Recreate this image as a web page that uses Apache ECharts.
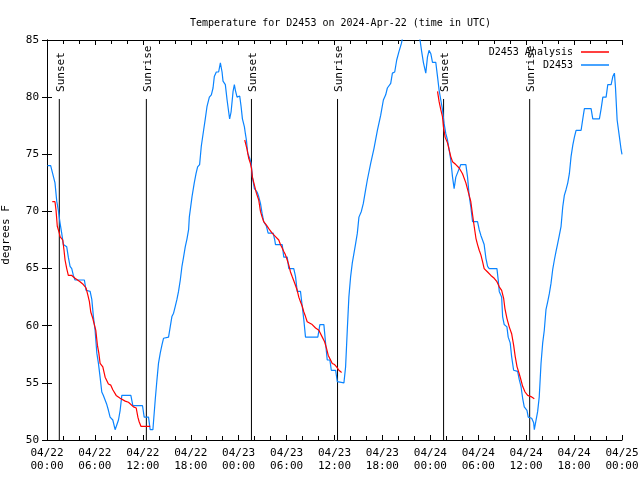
<!DOCTYPE html>
<html><head><meta charset="utf-8">
<script src="https://cdn.jsdelivr.net/npm/echarts@6/dist/echarts.min.js"></script>
<style>html,body{margin:0;padding:0;background:#fff}#c{width:640px;height:480px}</style>
</head><body><div id="c"></div>
<script>
// x values are hours since 04/22 00:00 UTC
const xTickLabels = ["04/22\n00:00","04/22\n06:00","04/22\n12:00","04/22\n18:00","04/23\n00:00","04/23\n06:00","04/23\n12:00","04/23\n18:00","04/24\n00:00","04/24\n06:00","04/24\n12:00","04/24\n18:00","04/25\n00:00"];
const sunsetHours = [1.54, 25.60, 49.66];
const sunriseHours = [12.44, 36.38, 60.44];

const obsHours = [0.05,0.46,1.0,1.22,1.42,1.63,1.84,2.05,2.47,2.67,2.89,3.10,3.30,3.51,4.68,4.89,5.40,5.61,5.81,6.02,6.24,6.44,6.65,6.86,7.06,7.49,7.69,7.90,8.24,8.53,8.75,8.95,9.16,9.37,10.50,10.75,11.96,12.17,12.71,12.92,13.26,13.55,13.76,13.96,14.18,14.39,14.59,15.22,15.43,15.64,15.85,16.06,16.27,16.47,16.69,16.90,17.10,17.31,17.53,17.73,17.82,18.16,18.44,18.66,18.86,19.11,19.32,19.61,19.82,20.04,20.33,20.58,20.79,20.95,21.20,21.49,21.71,21.92,22.04,22.33,22.55,22.75,22.87,23.05,23.30,23.46,23.59,23.80,24.13,24.30,24.47,24.72,24.84,24.97,25.13,25.38,25.56,25.72,25.97,26.31,26.51,26.73,26.94,27.14,27.48,27.69,28.32,28.52,28.61,29.45,29.65,30.08,30.28,30.90,31.12,31.33,31.74,31.96,32.16,32.37,33.91,34.17,34.67,34.88,35.09,35.42,35.60,36.14,36.35,37.18,37.39,37.60,37.80,38.02,38.23,38.43,38.65,38.86,39.06,39.36,39.61,39.90,40.11,40.53,40.94,41.37,41.78,42.12,42.41,42.62,43.04,43.25,43.54,43.79,44.08,44.38,44.60,45.10,45.60,46.10,46.60,46.71,46.89,47.14,47.43,47.64,47.84,48.06,48.27,48.68,48.90,49.10,49.31,49.52,49.72,49.94,50.15,50.35,50.56,50.78,50.98,51.19,51.40,51.82,52.45,52.66,52.86,53.07,53.29,53.91,54.12,54.33,54.54,54.74,54.96,55.17,55.37,56.34,56.50,56.63,56.93,57.05,57.25,57.59,57.75,58.00,58.18,58.43,58.93,59.13,59.35,59.56,59.76,60.10,60.26,60.69,60.94,61.02,61.27,61.44,61.64,61.86,62.07,62.27,62.48,62.70,62.90,63.11,63.32,63.53,63.74,63.95,64.15,64.37,64.58,64.78,64.99,65.21,65.41,65.62,65.84,66.04,66.25,66.88,67.09,67.29,68.13,68.34,69.17,69.39,69.60,70.01,70.22,70.64,70.85,71.05,71.18,71.39,71.68,71.89,72.0];
const obsTemps = [74.0,74.0,72.5,70.9,70.1,69.0,68.1,67.1,66.9,66.0,65.2,65.0,64.4,64.0,64.0,63.1,63.0,62.3,60.8,59.6,57.6,56.7,55.5,54.2,53.9,53.1,52.6,52.0,51.75,50.9,50.9,51.75,52.6,53.9,53.9,53.0,53.0,52.0,52.0,50.9,50.9,53.5,55.2,56.7,57.6,58.3,58.9,59.0,59.9,60.8,61.1,61.7,62.3,63.0,64.0,65.2,66.0,66.9,67.6,68.4,69.5,71.3,72.5,73.3,73.9,74.1,75.7,77.1,78.1,79.2,80.0,80.2,80.8,81.8,82.2,82.2,83.0,82.2,81.4,81.1,79.75,78.7,78.1,78.7,80.5,81.1,80.6,80.0,80.1,79.2,78.1,77.4,76.8,76.25,75.1,74.65,74.2,73.0,72.0,71.7,71.3,70.7,69.8,69.1,68.7,68.1,68.1,67.5,67.1,67.1,66.0,66.0,65.0,65.0,64.3,63.0,63.0,61.7,60.5,59.0,59.0,60.1,60.1,58.5,57.0,57.0,56.1,56.1,55.1,55.0,56.4,59.6,62.5,64.3,65.5,66.3,67.2,68.1,69.5,70.0,70.7,71.9,72.75,74.2,75.5,77.1,78.4,79.75,80.2,80.8,81.2,82.1,82.2,83.25,84.0,84.7,85.5,86.3,86.0,86.4,85.5,85.0,84.1,83.0,82.1,83.5,84.1,83.8,83.05,83.05,81.8,80.6,79.75,78.9,77.7,76.8,76.25,75.4,74.5,73.0,72.0,73.0,73.0,74.1,74.1,73.0,71.4,70.4,69.1,69.1,68.4,67.9,67.8,67.1,65.9,65.2,65.0,65.0,64.0,63.0,62.5,60.8,60.1,59.9,59.0,58.5,57.3,56.1,56.0,55.3,54.7,53.65,52.9,52.6,52.0,51.9,51.5,50.9,50.9,52.5,53.8,56.7,58.5,59.6,61.4,62.1,62.8,63.7,64.9,65.75,66.5,67.2,67.9,68.7,70.4,71.4,71.9,72.5,73.3,74.8,75.8,76.5,77.1,77.1,78.1,79.0,79.0,78.1,78.1,79.0,80.0,80.0,81.1,81.1,81.8,82.1,80.9,78.0,76.5,75.4,75.0];

const anaHours = [0.66,1.0,1.13,1.29,1.54,1.63,1.84,1.97,2.13,2.26,2.47,2.67,3.10,3.51,4.14,4.55,4.89,5.11,5.31,5.48,5.73,5.93,6.11,6.31,6.49,6.65,6.99,7.28,7.69,7.99,8.24,8.66,9.16,9.79,10.20,10.83,11.17,11.38,11.54,11.76,12.92,
 null,
 24.76,25.06,25.26,25.47,25.60,25.72,25.97,26.22,26.51,26.73,26.94,27.14,27.48,27.77,28.19,28.61,29.02,29.23,29.45,29.65,29.86,30.08,30.28,30.49,30.70,31.03,31.33,31.53,31.74,31.96,32.16,32.37,32.58,32.79,33.21,33.63,34.04,34.47,34.76,35.01,35.22,35.51,35.72,36.01,36.26,36.55,36.89,
 null,
 48.90,49.10,49.31,49.52,49.64,49.85,50.15,50.35,50.56,50.78,51.19,51.61,52.03,52.45,52.79,53.07,53.29,53.49,53.71,53.91,54.12,54.33,54.54,54.74,55.17,55.58,56.00,56.34,56.63,56.93,57.18,57.34,57.59,57.88,58.18,58.43,58.63,58.86,59.13,59.35,59.56,59.86,60.19,60.60,61.02];
const anaTemps = [70.85,70.85,70.1,68.7,68.1,67.8,67.8,67.5,66.6,65.75,65.0,64.4,64.4,64.15,63.85,63.6,63.3,62.7,62.1,61.2,60.65,60.65,59.6,58.3,57.6,56.7,56.4,55.5,54.9,54.8,54.4,53.9,53.65,53.4,53.3,52.9,52.8,52.0,51.6,51.2,51.2,
 null,
 76.25,75.4,74.65,74.2,73.8,73.0,72.3,71.6,71.0,70.0,69.5,69.1,68.8,68.5,68.1,67.8,67.5,67.1,66.8,66.5,66.2,65.75,65.3,64.7,64.3,63.7,63.1,62.5,62.1,61.7,61.2,60.8,60.35,60.2,60.1,59.8,59.6,59.0,58.6,58.0,57.4,57.0,56.7,56.6,56.4,56.1,55.9,
 null,
 80.5,79.6,78.9,78.3,77.4,76.5,76.0,75.4,74.8,74.35,74.1,73.8,73.3,72.5,71.6,70.85,69.7,68.7,67.65,67.1,66.6,66.2,65.6,65.0,64.7,64.4,64.15,63.85,63.4,63.1,62.4,61.5,60.65,59.9,59.3,58.3,57.3,56.4,55.8,55.25,54.7,54.2,53.9,53.8,53.6];

const FONT = 'DejaVu Sans Mono';
const pair = (xs, ys) => xs.map((x, i) => (x === null ? [null, null] : [x, ys[i]]));
const sunEvents = sunsetHours.map(h => [h, 'Sunset']).concat(sunriseHours.map(h => [h, 'Sunrise']));

const chart = echarts.init(document.getElementById('c'), null, {renderer: 'canvas'});
const axisCommon = {
  type: 'value', min: 0, max: 72, interval: 6,
  axisLine: {show: true, lineStyle: {color: '#000', width: 1}},
  axisTick: {show: true, inside: true, length: 5, lineStyle: {color: '#000'}},
  minorTick: {show: true, splitNumber: 3, length: 4, lineStyle: {color: '#000'}},
  splitLine: {show: false}
};
chart.setOption({
  animation: false,
  backgroundColor: '#fff',
  title: {text: 'Temperature for D2453 on 2024-Apr-22 (time in UTC)', left: 185, top: 13,
    textStyle: {fontFamily: FONT, fontSize: 10, fontWeight: 'normal', color: '#000'}},
  grid: {left: 47, right: 18, top: 40, bottom: 40, containLabel: false, outerBoundsMode: 'none'},
  legend: [
    {data: [{name: 'D2453 Analysis', icon: 'rect'}], right: 26, top: 42, align: 'right', itemWidth: 28, itemHeight: 1.5,
      textStyle: {fontFamily: FONT, fontSize: 10, color: '#000', padding: [0, 3, 0, 0]}},
    {data: [{name: 'D2453', icon: 'rect'}], right: 26, top: 55, align: 'right', itemWidth: 28, itemHeight: 1.5,
      textStyle: {fontFamily: FONT, fontSize: 10, color: '#000', padding: [0, 3, 0, 0]}}
  ],
  xAxis: [
    Object.assign({}, axisCommon, {position: 'bottom',
      axisLabel: {show: true, fontFamily: FONT, fontSize: 11, color: '#000', lineHeight: 13, margin: 7,
        showMinLabel: true, showMaxLabel: true, hideOverlap: false,
        formatter: v => xTickLabels[Math.round(v / 6)]}}),
    Object.assign({}, axisCommon, {position: 'top', axisLabel: {show: false}})
  ],
  yAxis: [
    {type: 'value', min: 50, max: 85, interval: 5, position: 'left',
      name: 'degrees F', nameLocation: 'middle', nameGap: 35, nameRotate: 90,
      nameTextStyle: {fontFamily: FONT, fontSize: 11, color: '#000', padding: [0, 0, 0, 10]},
      axisLine: {show: true, lineStyle: {color: '#000'}},
      axisTick: {show: true, inside: true, length: 5, lineStyle: {color: '#000'}},
      axisLabel: {fontFamily: FONT, fontSize: 11, color: '#000', margin: 8},
      splitLine: {show: false}},
    {type: 'value', min: 50, max: 85, interval: 5, position: 'right',
      axisLine: {show: true, lineStyle: {color: '#000'}},
      axisTick: {show: true, inside: true, length: 5, lineStyle: {color: '#000'}},
      axisLabel: {show: false}, splitLine: {show: false}}
  ],
  series: [
    {type: 'custom', name: 'sun', silent: true, clip: false, z: 1,
      data: sunEvents,
      renderItem: function (params, api) {
        const h = api.value(0);
        const label = sunEvents[params.dataIndex][1];
        const p0 = api.coord([h, 50]);
        const p1 = api.coord([h, 79.84]);
        return {type: 'group', children: [
          {type: 'line', shape: {x1: p0[0], y1: p0[1], x2: p1[0], y2: p1[1]}, style: {stroke: '#000', lineWidth: 1}},
          {type: 'text', x: p1[0] + 1.5, y: p1[1] - 7, rotation: Math.PI / 2,
            style: {text: label, fontFamily: FONT, fontSize: 11, fill: '#000', align: 'left', verticalAlign: 'middle'}}
        ]};
      }},
    {type: 'line', name: 'D2453 Analysis', data: pair(anaHours, anaTemps), showSymbol: false, symbol: 'none',
      connectNulls: false, clip: true, z: 3, color: '#ff0000', lineStyle: {color: '#ff0000', width: 1.2}},
    {type: 'line', name: 'D2453', data: pair(obsHours, obsTemps), showSymbol: false, symbol: 'none',
      clip: true, z: 2, color: '#0a84ff', lineStyle: {color: '#0a84ff', width: 1.2}}
  ]
});
</script></body></html>
